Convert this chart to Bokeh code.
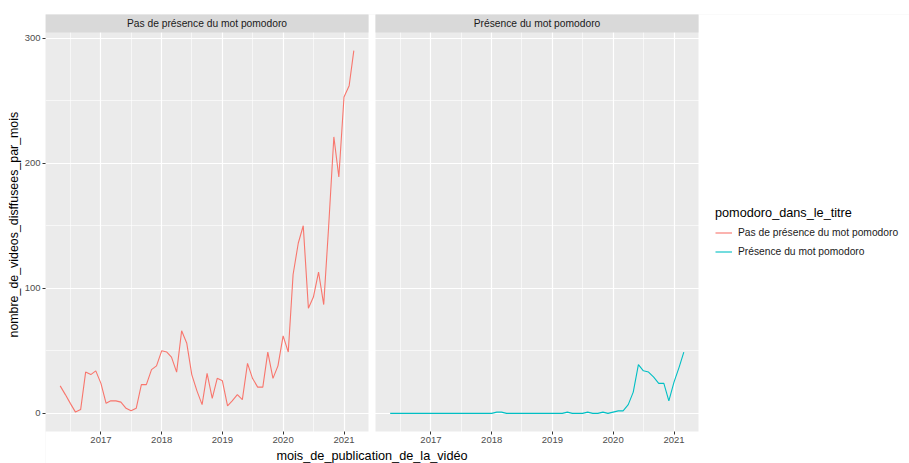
import numpy as np
import pandas as pd
from bokeh.plotting import figure
from bokeh.models import (Range1d, FixedTicker, CustomJSTickFormatter, Legend,
                          LegendItem, Grid, Label, Title)
from bokeh.core.properties import value
from bokeh.embed import file_html
from bokeh.resources import INLINE

# ---------------- data ----------------
first_month = "2016-05-01"
pas_de_presence = [22, 15, 8, 1, 3, 33, 31, 34,
                   24, 8, 10, 10, 9, 4, 2, 4, 23, 23, 35, 38,
                   50, 49, 45, 33, 66, 56, 31, 18, 7, 32, 12, 28,
                   26, 6, 10, 15, 11, 40, 28, 21, 21, 49, 28, 38,
                   62, 49, 111, 136, 150, 84, 93, 113, 87, 150, 221, 189,
                   253, 262, 290]
presence = [0, 0, 0, 0, 0, 0, 0, 0,
            0, 0, 0, 0, 0, 0, 0, 0, 0, 0, 0, 0,
            0, 1, 1, 0, 0, 0, 0, 0, 0, 0, 0, 0,
            0, 0, 0, 1, 0, 0, 0, 1, 0, 0, 1, 0,
            1, 2, 2, 7, 17, 39, 34, 33, 29, 24, 24, 10,
            25, 37, 49]
panel_titles = ["Pas de présence du mot pomodoro", "Présence du mot pomodoro"]
legend_title = "pomodoro_dans_le_titre"
x_title = "mois_de_publication_de_la_vidéo"
y_title = "nombre_de_videos_disffusees_par_mois"
year_ticks = ["2017-01-01", "2018-01-01", "2019-01-01", "2020-01-01", "2021-01-01"]
mid_year_ticks = ["2016-07-01", "2017-07-01", "2018-07-01", "2019-07-01", "2020-07-01"]
y_ticks = [0, 100, 200, 300]
y_minor_ticks = [50, 150, 250]
colors = ["#F8766D", "#00BFC4"]

FONT = "Liberation Sans"
TITLE_SIZE = "12.7px"
SMALL_SIZE = "10.25px"


def to_ms(dates):
    return np.array([pd.Timestamp(d).value // 10**6 for d in dates], dtype=float)


months = pd.date_range(first_month, periods=len(pas_de_presence), freq="MS")
x = to_ms(months)
year_ms = to_ms(year_ticks)
mid_ms = to_ms(mid_year_ticks)

# ---------------- layout geometry (facet panels, px) ----------------
WIDTH, HEIGHT = 909, 463
BORDER_L, BORDER_T = 45, 14
FRAME_W = WIDTH - BORDER_L
FRAME_H = HEIGHT - BORDER_T
W, G = 323.0, 7.0            # panel width, gap between panels
S, P = 18.0, 399.0           # strip height, panel height
B = FRAME_H - S - P          # space below the panels (tick labels, title)

span = x.max() - x.min()
xl0 = x.min() - 0.05 * span
xl1 = x.max() + 0.05 * span
xspan = (xl1 - xl0) * FRAME_W / W
shift = round((xl1 - xl0) * (W + G) / W)

ymax = max(max(pas_de_presence), max(presence))
y0 = -0.05 * ymax
y1 = 1.05 * ymax
ypx = (y1 - y0) / P
ybot = y0 - B * ypx
ytop = y1 + S * ypx

p = figure(width=WIDTH, height=HEIGHT,
           x_range=Range1d(xl0, xl0 + xspan), y_range=Range1d(ybot, ytop),
           output_backend="svg", toolbar_location=None,
           min_border_left=BORDER_L, min_border_right=0,
           min_border_top=BORDER_T, min_border_bottom=0,
           background_fill_color="#EBEBEB", border_fill_color="white",
           outline_line_color=None)
p.extra_x_ranges = {"right": Range1d(xl0 - shift, xl0 - shift + xspan)}

# grids
grid_kw = dict(grid_line_color="white", grid_line_width=1.2,
               minor_grid_line_color="white", minor_grid_line_width=0.6)
p.xgrid.ticker = FixedTicker(ticks=list(year_ms), minor_ticks=list(mid_ms))
p.xgrid.update(**grid_kw)
p.add_layout(Grid(dimension=0, x_range_name="right",
                  ticker=FixedTicker(ticks=list(year_ms), minor_ticks=list(mid_ms)),
                  **grid_kw))
p.ygrid.ticker = FixedTicker(ticks=y_ticks, minor_ticks=y_minor_ticks)
p.ygrid.update(**grid_kw)

# white space outside the two panels (gap, right side, below)
cover = dict(fill_color="white", line_color=None)
far = 1000
p.quad(left=[xl1], right=[xl0 + shift], bottom=[ybot - far], top=[ytop + far], **cover)
p.quad(left=[xl1], right=[xl0 + 2 * xspan], bottom=[ybot - far], top=[ytop + far],
       x_range_name="right", **cover)
p.quad(left=[xl0 - xspan], right=[xl0 + 2 * xspan], bottom=[ybot - far], top=[y0], **cover)

# strips
p.quad(left=[xl0], right=[xl1], bottom=[y1], top=[ytop + far],
       fill_color="#D9D9D9", line_color=None)
p.quad(left=[xl0], right=[xl1], bottom=[y1], top=[ytop + far],
       fill_color="#D9D9D9", line_color=None, x_range_name="right")
strip_kw = dict(text_align="center", text_baseline="middle",
                text_font=value(FONT), text_font_size=value(SMALL_SIZE),
                text_color="#1A1A1A")
p.text(x=[(xl0 + xl1) / 2], y=[(y1 + ytop) / 2], text=[panel_titles[0]], **strip_kw)
p.text(x=[(xl0 + xl1) / 2], y=[(y1 + ytop) / 2], text=[panel_titles[1]],
       x_range_name="right", **strip_kw)

# series
r1 = p.line(x, pas_de_presence, line_color=colors[0], line_width=1.1)
r2 = p.line(x, presence, line_color=colors[1], line_width=1.1, x_range_name="right")

# axes
xa = p.xaxis[0]
xa.fixed_location = y0
xa.ticker = FixedTicker(ticks=list(year_ms) + list(year_ms + shift))
xa.formatter = CustomJSTickFormatter(args=dict(cut=float(xl1), shift=float(shift)), code="""
    const t = tick > cut ? tick - shift : tick;
    return String(new Date(t + 86400000).getUTCFullYear());
""")
ya = p.yaxis[0]
ya.ticker = FixedTicker(ticks=y_ticks)
for ax in (xa, ya):
    ax.axis_line_color = None
    ax.major_tick_line_color = "#333333"
    ax.major_tick_out = 3
    ax.major_tick_in = 0
    ax.minor_tick_line_color = None
    ax.major_label_text_color = "#4D4D4D"
    ax.major_label_text_font = FONT
    ax.major_label_text_font_size = "9.5px"
    ax.major_label_standoff = 2

# y-axis title, centred on the panel (not the strip)
p.add_layout(Title(text=y_title, align="left", offset=126, standoff=2,
                   text_font=FONT, text_font_size="12.4px",
                   text_font_style="normal", text_color="black"), "left")

# x-axis title, centred under both panels
p.add_layout(Label(x=(xl0 + xl1 + shift) / 2, y=y0 - 24 * ypx,
                   text=x_title, text_align="center", text_baseline="middle",
                   text_font=FONT, text_font_size=TITLE_SIZE, text_color="black"))

# legend
legend = Legend(items=[LegendItem(label=panel_titles[0], renderers=[r1]),
                       LegendItem(label=panel_titles[1], renderers=[r2])],
                title=legend_title, location=(2 * W + G + 17, 203), margin=0, padding=3,
                title_text_font=FONT, title_text_font_size=TITLE_SIZE,
                title_text_font_style="normal", title_text_color="black",
                title_standoff=4,
                label_text_font=FONT, label_text_font_size=SMALL_SIZE,
                label_text_color="#1A1A1A", label_standoff=6,
                glyph_width=17, glyph_height=17, spacing=2,
                background_fill_alpha=0, border_line_color=None)
p.add_layout(legend, "center")

open("out.html", "w").write(file_html(p, INLINE))
